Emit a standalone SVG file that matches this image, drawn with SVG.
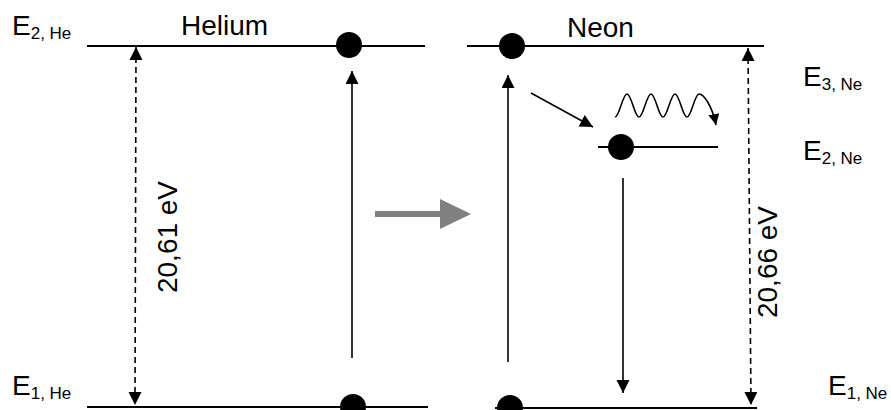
<svg xmlns="http://www.w3.org/2000/svg" width="891" height="410" viewBox="0 0 891 410">
<style>
.lvl{stroke:#000;stroke-width:2;fill:none}
.arr{stroke:#000;stroke-width:1.6;fill:none}
.dash{stroke:#000;stroke-width:1.6;fill:none;stroke-dasharray:6 4}
.dot{fill:#000}
text{font-family:"Liberation Sans",Arial,sans-serif;font-size:28px;fill:#000}
.sub{font-size:17px}
</style>
<defs>
<marker id="ah" markerUnits="userSpaceOnUse" markerWidth="14" markerHeight="14" refX="13" refY="6.5" orient="auto-start-reverse" viewBox="0 0 14 14">
<path d="M0,0 L13,6.5 L0,13 Z" fill="#000"/>
</marker>
<marker id="ahs" markerUnits="userSpaceOnUse" markerWidth="12" markerHeight="12" refX="11" refY="5.5" orient="auto" viewBox="0 0 12 12">
<path d="M0,0 L11,5.5 L0,11 Z" fill="#000"/>
</marker>
</defs>
<g id="helium">
<line class="lvl" x1="87" y1="46" x2="425" y2="46"/>
<line class="lvl" x1="87" y1="407" x2="428" y2="407"/>
<circle class="dot" cx="349" cy="45" r="13"/>
<circle class="dot" cx="353" cy="407" r="13"/>
<text x="181" y="35">Helium</text>
<text x="12" y="35">E<tspan class="sub" y="39">2, He</tspan></text>
<text x="12" y="395">E<tspan class="sub" y="399">1, He</tspan></text>
<text transform="translate(177,237) rotate(-90)" text-anchor="middle">20,61 eV</text>
</g>
<g id="neon">
<line class="lvl" x1="467" y1="46" x2="764" y2="46"/>
<line class="lvl" x1="495" y1="408" x2="757" y2="408"/>
<line class="lvl" x1="598" y1="147" x2="718" y2="147"/>
<circle class="dot" cx="512" cy="46" r="13"/>
<circle class="dot" cx="621" cy="147" r="13"/>
<circle class="dot" cx="510" cy="408" r="13"/>
<text x="567" y="37">Neon</text>
<text x="803" y="86">E<tspan class="sub" y="90">3, Ne</tspan></text>
<text x="803" y="160">E<tspan class="sub" y="164">2, Ne</tspan></text>
<text x="828" y="395">E<tspan class="sub" y="399">1, Ne</tspan></text>
<text transform="translate(777,262) rotate(-90)" text-anchor="middle">20,66 eV</text>
</g>
<g id="transfer">
<polygon points="375,211 440,211 440,199 471,214 440,229 440,217 375,217" fill="#808080"/>
</g>
<g id="connectors">
<line class="dash" x1="136" y1="47" x2="135" y2="405" marker-start="url(#ah)" marker-end="url(#ah)"/>
<line class="arr" x1="352" y1="358" x2="352" y2="71" marker-end="url(#ah)"/>
<line class="arr" x1="508" y1="362" x2="508" y2="75" marker-end="url(#ah)"/>
<line class="arr" x1="531" y1="93" x2="593" y2="127" marker-end="url(#ah)"/>
<line class="arr" x1="623" y1="178" x2="623" y2="393" marker-end="url(#ah)"/>
<line class="dash" x1="748" y1="48" x2="751" y2="405" marker-start="url(#ah)" marker-end="url(#ah)"/>
<path class="arr" d="M615,117 C619.5,117 622.5,94 627,94 S634.5,117 639,117 S646.5,94 651,94 S658.5,117 663,117 S670.5,94 675,94 S682.5,117 687,117 S694.5,94 699,94 S712,105 716,125" marker-end="url(#ahs)"/>
</g>
</svg>
